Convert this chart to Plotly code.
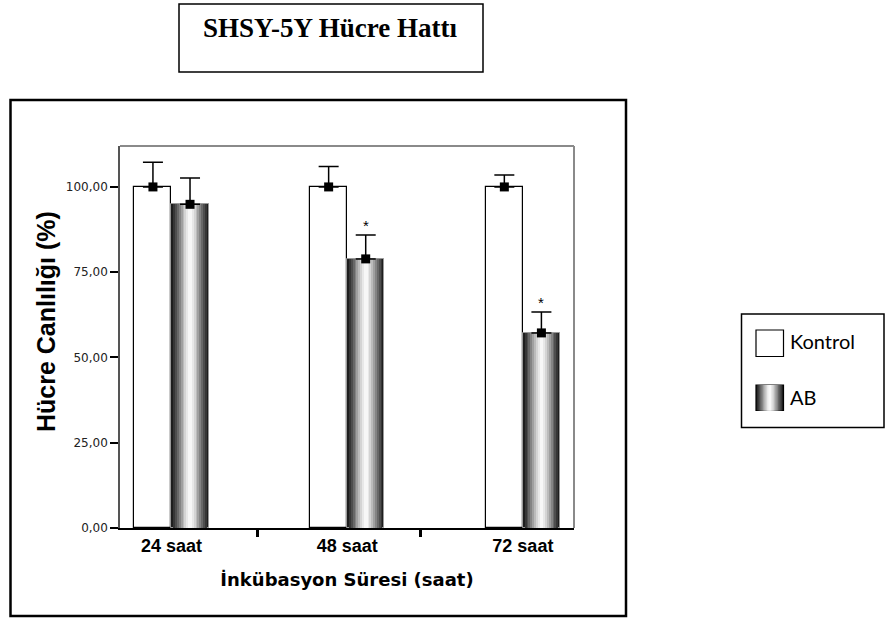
import numpy as np
import plotly.graph_objects as go

# ---------------- data ----------------
categories = ["24 saat", "48 saat", "72 saat"]
kontrol_mean = [100.0, 100.0, 100.0]
kontrol_err = [7.2, 6.0, 3.5]
ab_mean = [94.9, 78.9, 57.2]
ab_err = [7.7, 7.0, 6.1]
ab_sig = ["", "*", "*"]
y_ticks = [0, 25, 50, 75, 100]

# ---------------- geometry / style ----------------
W, H = 889, 620
PL, PR, PT, PB = 120, 574, 146, 528  # plot area in page pixels
L, T, R, B = PL, PT, W - PR, H - PB
PW, PH = W - L - R, H - T - B
BW = 0.211  # bar width in category units

def px(x):  # page pixel -> paper x
    return (x - L) / PW

def py(y):  # page pixel -> paper y
    return (H - B - y) / PH

idx = np.arange(len(categories))

# cylinder-like gradient layers (fraction of width, colour)
layers = [(1.00, "#1e1e1e"), (0.90, "#363636"), (0.80, "#4e4e4e"), (0.70, "#686868"),
          (0.60, "#848484"), (0.50, "#a0a0a0"), (0.40, "#bbbbbb"), (0.30, "#d4d4d4"),
          (0.20, "#e8e8e8"), (0.10, "#f7f7f7")]

fig = go.Figure()

# Kontrol bars
fig.add_trace(go.Bar(
    x=idx, y=kontrol_mean, offset=-BW, width=BW,
    marker=dict(color="white", line=dict(color="black", width=1.2)),
    name="Kontrol", showlegend=False, hoverinfo="skip"))

# AB bars drawn as concentric layers
for i, (f, c) in enumerate(layers):
    fig.add_trace(go.Bar(
        x=idx, y=ab_mean, offset=BW / 2 - f * BW / 2, width=f * BW,
        marker=dict(color=c, line=dict(color="#9a9a9a" if i == 0 else c, width=1 if i == 0 else 0)),
        name="AB", showlegend=False, hoverinfo="skip"))

# means with upper error bars
fig.add_trace(go.Scatter(
    x=idx - BW / 2, y=kontrol_mean, mode="markers",
    marker=dict(symbol="square", size=9, color="black"),
    error_y=dict(type="data", symmetric=False, array=kontrol_err,
                 arrayminus=[0] * len(kontrol_err), color="black", thickness=1.5, width=10),
    showlegend=False))
fig.add_trace(go.Scatter(
    x=idx + BW / 2, y=ab_mean, mode="markers",
    marker=dict(symbol="square", size=9, color="black"),
    error_y=dict(type="data", symmetric=False, array=ab_err,
                 arrayminus=[0] * len(ab_err), color="black", thickness=1.5, width=10),
    showlegend=False))

annotations = []
for i, s in enumerate(ab_sig):
    if s:
        annotations.append(dict(x=idx[i] + BW / 2, y=ab_mean[i] + ab_err[i], xref="x", yref="y",
                                text=s, showarrow=False, yanchor="middle", yshift=10,
                                font=dict(family="Liberation Sans", size=15, color="black")))

# title text
annotations.append(dict(x=px(330), y=py(28), xref="paper", yref="paper",
                        text="<b>SHSY-5Y Hücre Hattı</b>", showarrow=False,
                        xanchor="center", yanchor="middle",
                        font=dict(family="Liberation Serif", size=27, color="black")))
# y axis title
annotations.append(dict(x=px(46), y=py(322), xref="paper", yref="paper",
                        text="<b>Hücre Canlılığı (%)</b>", showarrow=False, textangle=-90,
                        xanchor="center", yanchor="middle",
                        font=dict(family="Liberation Sans", size=25, color="black")))
# legend texts
annotations.append(dict(x=px(788), y=py(341), xref="paper", yref="paper", text="Kontrol",
                        showarrow=False, xanchor="left", yanchor="middle",
                        font=dict(family="Lato", size=20, color="black")))
annotations.append(dict(x=px(788), y=py(397), xref="paper", yref="paper", text="AB",
                        showarrow=False, xanchor="left", yanchor="middle",
                        font=dict(family="Lato", size=20, color="black")))

shapes = []
# plot box (top/right grey)
shapes.append(dict(type="line", xref="paper", yref="paper", x0=0, x1=1, y0=1, y1=1,
                   line=dict(color="#8a8a8a", width=2)))
shapes.append(dict(type="line", xref="paper", yref="paper", x0=1, x1=1, y0=0, y1=1,
                   line=dict(color="#8a8a8a", width=2)))
# outer frame
shapes.append(dict(type="rect", xref="paper", yref="paper", x0=px(10.5), x1=px(626),
                   y0=py(616), y1=py(100), line=dict(color="black", width=2.5)))
# title box
shapes.append(dict(type="rect", xref="paper", yref="paper", x0=px(179), x1=px(483),
                   y0=py(72), y1=py(4), line=dict(color="black", width=1.5)))
# legend box
shapes.append(dict(type="rect", xref="paper", yref="paper", x0=px(741.5), x1=px(884),
                   y0=py(427.5), y1=py(314), line=dict(color="black", width=1.5)))
# Kontrol swatch
shapes.append(dict(type="rect", xref="paper", yref="paper", x0=px(756), x1=px(783.5),
                   y0=py(356.5), y1=py(330), fillcolor="white", line=dict(color="black", width=1.2)))
# AB swatch (gradient)
sx0, sx1 = 756, 783.5
sc = (sx0 + sx1) / 2
sw = sx1 - sx0
for i, (f, c) in enumerate(layers):
    shapes.append(dict(type="rect", xref="paper", yref="paper",
                       x0=px(sc - f * sw / 2), x1=px(sc + f * sw / 2),
                       y0=py(410.5), y1=py(385), fillcolor=c,
                       line=dict(color="black" if i == 0 else c, width=1.2 if i == 0 else 0)))

fig.update_layout(
    width=W, height=H, margin=dict(l=L, r=R, t=T, b=B, autoexpand=False),
    paper_bgcolor="white", plot_bgcolor="white",
    barmode="overlay", bargap=0, separators=",.",
    showlegend=False, annotations=annotations, shapes=shapes,
    xaxis=dict(range=[-0.293, 2.291], tickvals=idx, ticktext=categories, ticks="",
               showgrid=False, zeroline=False, showline=True, linecolor="black", linewidth=2,
               tickfont=dict(family="Liberation Sans", size=18, color="black", weight="bold"),
               minor=dict(tickvals=[0.49, 1.42], ticks="outside", ticklen=7, tickwidth=3,
                          tickcolor="black", showgrid=False),
               title=dict(text="<b>İnkübasyon Süresi (saat)</b>", standoff=19,
                          font=dict(family="DejaVu Sans", size=18, color="black"))),
    yaxis=dict(range=[0, 112], tickvals=y_ticks, tickformat=".2f", ticks="outside",
               ticklen=8, tickwidth=2, tickcolor="black", showgrid=False, zeroline=False,
               showline=True, linecolor="#555555", linewidth=1.5,
               tickfont=dict(family="DejaVu Sans", size=12, color="#222222")),
)

fig.write_html("out.html", config={"displayModeBar": False},
               post_script="document.body.style.margin='0px';")
